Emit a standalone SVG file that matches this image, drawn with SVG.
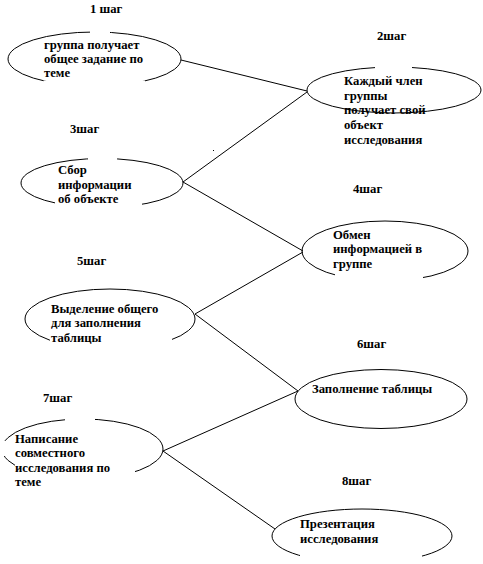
<svg xmlns="http://www.w3.org/2000/svg" width="483" height="564" viewBox="0 0 483 564">
<style>
.e{fill:none;stroke:#000;stroke-width:1}
.m{fill:#fff;stroke:none}
.t{font-family:'Liberation Serif','DejaVu Serif','Times New Roman',serif;font-weight:bold;font-size:12.7px;fill:#000}
.c{stroke:#000;stroke-width:1;fill:none}
</style>
<rect width="483" height="564" fill="#fff"/>
<g id="connectors">
<line class="c" x1="181" y1="60" x2="307" y2="91"/>
<line class="c" x1="183" y1="182" x2="307" y2="92"/>
<line class="c" x1="183" y1="182" x2="303" y2="251"/>
<line class="c" x1="195" y1="314" x2="303" y2="252"/>
<line class="c" x1="195" y1="314" x2="298" y2="391"/>
<line class="c" x1="163" y1="451" x2="298" y2="391"/>
<line class="c" x1="163" y1="451" x2="275" y2="529"/>
<rect x="213" y="150" width="1" height="1" fill="#000"/>
</g>
<g id="step1">
<text class="t" x="90" y="13">1 шаг</text>
<ellipse class="e" cx="94.5" cy="59" rx="86.5" ry="27"/>
<rect class="m" x="90" y="30" width="20" height="6"/>
<rect class="m" x="43.5" y="80.5" width="101.5" height="10"/>
<text class="t" x="44" y="49">группа получает</text>
<text class="t" x="44" y="63">общее задание по</text>
<text class="t" x="44" y="77">теме</text>
</g>
<g id="step2">
<text class="t" x="377" y="40">2шаг</text>
<ellipse class="e" cx="394" cy="90" rx="87" ry="23"/>
<rect class="m" x="375" y="64" width="37" height="6"/>
<text class="t" x="344" y="85">Каждый член</text>
<text class="t" x="344" y="100">группы</text>
<text class="t" x="344" y="114">получает свой</text>
<text class="t" x="344" y="129">объект</text>
<text class="t" x="344" y="144">исследования</text>
</g>
<g id="step3">
<text class="t" x="70" y="133">3шаг</text>
<ellipse class="e" cx="102" cy="183" rx="81" ry="24.5"/>
<rect class="m" x="88" y="156" width="29" height="6"/>
<rect class="m" x="55" y="202" width="87" height="10"/>
<text class="t" x="58" y="174">Сбор</text>
<text class="t" x="58" y="189">информации</text>
<text class="t" x="58" y="203">об объекте</text>
</g>
<g id="step4">
<text class="t" x="353" y="193">4шаг</text>
<ellipse class="e" cx="385" cy="251" rx="83" ry="30"/>
<rect class="m" x="335" y="274" width="88" height="11"/>
<text class="t" x="333" y="239">Обмен</text>
<text class="t" x="333" y="253">информацией в</text>
<text class="t" x="333" y="268">группе</text>
</g>
<g id="step5">
<text class="t" x="77" y="265">5шаг</text>
<ellipse class="e" cx="110" cy="319" rx="85" ry="30"/>
<rect class="m" x="50" y="338" width="122" height="14"/>
<text class="t" x="51" y="313">Выделение общего</text>
<text class="t" x="51" y="327">для заполнения</text>
<text class="t" x="51" y="342">таблицы</text>
</g>
<g id="step6">
<text class="t" x="357" y="348">6шаг</text>
<ellipse class="e" cx="381" cy="399" rx="86" ry="29.5"/>
<text class="t" x="312" y="393">Заполнение таблицы</text>
</g>
<g id="step7">
<text class="t" x="43" y="402">7шаг</text>
<ellipse class="e" cx="82.5" cy="449" rx="80.5" ry="30"/>
<rect class="m" x="65" y="416" width="30" height="8"/>
<rect class="m" x="0" y="441" width="14" height="15"/>
<rect class="m" x="15" y="463" width="120" height="20"/>
<text class="t" x="15" y="443">Написание</text>
<text class="t" x="15" y="457">совместного</text>
<text class="t" x="15" y="472">исследования по</text>
<text class="t" x="15" y="486">теме</text>
</g>
<g id="step8">
<text class="t" x="342" y="485">8шаг</text>
<ellipse class="e" cx="362" cy="536" rx="90" ry="27"/>
<rect class="m" x="300" y="553" width="122" height="11"/>
<text class="t" x="300" y="528">Презентация</text>
<text class="t" x="300" y="543">исследования</text>
</g>
</svg>
